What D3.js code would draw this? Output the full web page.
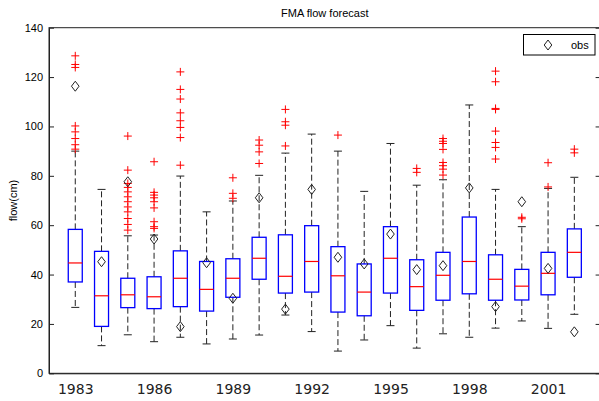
<!DOCTYPE html>
<html><head><meta charset="utf-8">
<script src="https://cdn.jsdelivr.net/npm/d3@7"></script>
<style>
body{margin:0;background:#fff;}
svg{display:block;}
</style></head>
<body><svg id="chart" width="599" height="401"></svg>
<script>
const years = [1983,1984,1985,1986,1987,1988,1989,1990,1991,1992,1993,1994,1995,1996,1997,1998,1999,2000,2001,2002];
const whiskerLow  = [26.7,11.2,15.6,12.8,14.6,11.9,13.9,15.5,23.6,16.9, 9.0,13.5,19.3,10.2,16.0,14.6,18.3,21.2,18.2,23.9];
const q1          = [37.0,19.0,26.6,26.2,27.0,25.2,30.8,38.1,32.5,32.9,24.8,23.3,32.5,25.5,29.6,32.2,29.6,29.7,31.8,38.9];
const median      = [44.7,31.4,31.8,31.0,38.5,34.0,38.5,46.6,39.3,45.3,39.5,32.9,46.6,35.1,39.7,45.3,38.1,35.3,40.5,49.0];
const q3          = [58.3,49.4,38.5,39.1,49.6,45.3,46.4,55.1,56.1,59.8,51.3,44.3,59.4,46.0,49.0,63.3,48.0,42.1,49.0,58.5];
const whiskerHigh = [90.0,74.5,55.7,56.0,79.9,65.4,69.8,80.2,89.2,96.9,90.0,73.7,93.1,76.2,78.4,108.7,74.5,59.4,74.9,79.4];
const obs         = [116.3,45.2,77.6,54.4,18.9,44.8,30.4,71.1,26.0,74.5,47.0,44.3,56.4,42.0,43.6,75.1,27.0,69.5,42.5,16.8];
const outliers = [
  [128.6,125.1,123.9,100.2,97.8,95.1,92.6,90.8],
  [],
  [96.1,82.3,76.9,75.3,73.5,71.5,69.5,67.4,65.4,62.7,60.3,58.0],
  [85.7,73.3,72.2,71.1,69.5,67.0,61.4,59.4,58.7],
  [122.1,115.0,111.1,105.5,102.3,99.6,95.5,84.3],
  [],
  [79.2,72.9,70.9],
  [94.5,92.4,89.7,85.0],
  [106.9,101.9,100.5,92.1],
  [],
  [96.5],
  [],
  [],
  [83.0,81.4],
  [95.1,94.0,93.1,90.7,85.4,84.1,82.7,80.3],
  [],
  [122.4,118.1,107.3,106.9,98.1,93.5,91.5,86.8],
  [63.2,62.6],
  [85.3,75.5],
  [90.8,89.3]
];
const yTicks = [0,20,40,60,80,100,120,140];
const xLabelYears = [1983,1986,1989,1992,1995,1998,2001];
const title = "FMA flow forecast";
const yTitle = "flow(cm)";
const legendLabel = "obs";

const svg = d3.select("#chart");
const L = 49, R = 600.6, T = 27.7, B = 373.3;
const x = d3.scaleLinear().domain([0, 21]).range([L, R]);
const y = d3.scaleLinear().domain([0, 140]).range([B, T]);
const pos = i => x(i + 1);
const boxHalf = 7, capHalf = 4;

// frame
svg.append("rect").attr("x", L).attr("y", T).attr("width", R - L).attr("height", B - T)
  .attr("fill", "#fff").attr("stroke", "#222").attr("stroke-width", 1);

// left axis
const gl = svg.append("g").attr("transform", `translate(${L},0)`)
  .call(d3.axisLeft(y).tickValues(yTicks).tickSizeInner(-5).tickSizeOuter(0).tickPadding(6));
gl.select(".domain").attr("stroke", "#222");
gl.selectAll(".tick line").attr("stroke", "#222");
gl.selectAll("text").attr("font-family", "Liberation Sans, Arial, sans-serif").attr("font-size", 11).attr("fill", "#000");

// right ticks
const gr = svg.append("g").attr("transform", `translate(${R},0)`)
  .call(d3.axisRight(y).tickValues(yTicks).tickSizeInner(-5).tickSizeOuter(0).tickFormat(""));
gr.select(".domain").attr("stroke", "#222");
gr.selectAll(".tick line").attr("stroke", "#222");

// bottom axis labels
const xLabelPos = xLabelYears.map(yr => years.indexOf(yr) + 1);
const gb = svg.append("g").attr("transform", `translate(0,${B})`)
  .call(d3.axisBottom(x).tickValues(xLabelPos).tickSize(0).tickPadding(11)
    .tickFormat(v => years[v - 1]));
gb.select(".domain").attr("stroke", "#222");
gb.selectAll("text").attr("font-family", "DejaVu Sans, sans-serif").attr("font-size", 14).attr("fill", "#222");

// boxes
const g = svg.append("g");
years.forEach((yr, i) => {
  const cx = pos(i);
  // whiskers (dashed)
  g.append("line").attr("x1", cx).attr("x2", cx).attr("y1", y(q3[i])).attr("y2", y(whiskerHigh[i]))
    .attr("stroke", "#222").attr("stroke-dasharray", "6,3");
  g.append("line").attr("x1", cx).attr("x2", cx).attr("y1", y(q1[i])).attr("y2", y(whiskerLow[i]))
    .attr("stroke", "#222").attr("stroke-dasharray", "6,3");
  // caps
  [whiskerHigh[i], whiskerLow[i]].forEach(v => {
    g.append("line").attr("x1", cx - capHalf).attr("x2", cx + capHalf).attr("y1", y(v)).attr("y2", y(v))
      .attr("stroke", "#222");
  });
  // box
  g.append("rect").attr("x", cx - boxHalf).attr("y", y(q3[i])).attr("width", boxHalf * 2)
    .attr("height", y(q1[i]) - y(q3[i])).attr("fill", "none").attr("stroke", "#00f").attr("stroke-width", 1.3);
  // median
  g.append("line").attr("x1", cx - boxHalf).attr("x2", cx + boxHalf).attr("y1", y(median[i])).attr("y2", y(median[i]))
    .attr("stroke", "#f00").attr("stroke-width", 1.2);
  // outliers
  outliers[i].forEach(v => {
    g.append("path").attr("d", `M${cx - 4},${y(v)}h8M${cx},${y(v) - 4}v8`)
      .attr("stroke", "#f00").attr("stroke-width", 1);
  });
  // obs diamond
  const oy = y(obs[i]);
  g.append("path").attr("d", `M${cx},${oy - 5}L${cx + 3.8},${oy}L${cx},${oy + 5}L${cx - 3.8},${oy}Z`)
    .attr("fill", "none").attr("stroke", "#222").attr("stroke-width", 1);
});

// title
svg.append("text").attr("x", (L + R) / 2).attr("y", 17).attr("text-anchor", "middle")
  .attr("font-family", "Liberation Sans, Arial, sans-serif").attr("font-size", 11).text(title);
// y title
svg.append("text").attr("transform", `translate(17,${(T + B) / 2}) rotate(-90)`).attr("text-anchor", "middle")
  .attr("font-family", "Liberation Sans, Arial, sans-serif").attr("font-size", 11).text(yTitle);

// legend
const lg = svg.append("g");
lg.append("rect").attr("x", 523.5).attr("y", 34.5).attr("width", 71.5).attr("height", 20.5)
  .attr("fill", "#fff").attr("stroke", "#000");
lg.append("path").attr("d", `M548,40L551.8,45L548,50L544.2,45Z`).attr("fill", "none").attr("stroke", "#222");
lg.append("text").attr("x", 571).attr("y", 49).attr("font-family", "Liberation Sans, Arial, sans-serif")
  .attr("font-size", 11).text(legendLabel);
</script>
</body></html>
